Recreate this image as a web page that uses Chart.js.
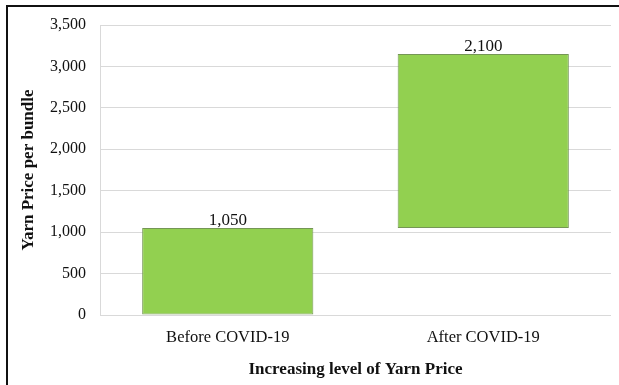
<!DOCTYPE html>
<html>
<head>
<meta charset="utf-8">
<script src="https://cdn.jsdelivr.net/npm/chart.js@4"></script>
<style>
    html, body { margin: 0; padding: 0; background: #fff; }
    .wrap { position: relative; width: 619px; height: 385px; overflow: hidden; }
    .frame { position: absolute; left: 6px; top: 5px; width: 700px; height: 500px; border: 2px solid #111; }
    canvas { position: absolute; left: 0; top: 0; }
</style>
</head>
<body>
<div class="wrap">
    <div class="frame"></div>
    <canvas id="priceChart" width="619" height="385"></canvas>
</div>
<script>
const categories = ['Before COVID-19', 'After COVID-19'];
const baseValues = [0, 1050];
const increments = [1050, 2100];
const yTicks = [0, 500, 1000, 1500, 2000, 2500, 3000, 3500];

const serif = '"Liberation Serif", "Times New Roman", serif';

// floating bars: each one starts where the previous level ended
const ranges = categories.map((c, i) => [baseValues[i], baseValues[i] + increments[i]]);

const valueLabels = {
    id: 'valueLabels',
    afterDatasetsDraw(chart) {
        const ctx = chart.ctx;
        const meta = chart.getDatasetMeta(0);
        ctx.save();
        ctx.font = '17px ' + serif;
        ctx.fillStyle = '#111';
        ctx.textAlign = 'center';
        ctx.textBaseline = 'alphabetic';
        meta.data.forEach((bar, i) => {
            ctx.fillText(increments[i].toLocaleString('en-US'), bar.x, bar.y - 3);
        });
        ctx.restore();
    }
};

new Chart(document.getElementById('priceChart').getContext('2d'), {
    type: 'bar',
    data: {
        labels: categories,
        datasets: [{
            data: ranges,
            backgroundColor: '#92D050',
            borderColor: '#759655',
            borderWidth: 1,
            borderSkipped: false,
            barPercentage: 0.67,
            categoryPercentage: 1
        }]
    },
    options: {
        responsive: false,
        animation: false,
        layout: { padding: { top: 25, right: 8, left: 18, bottom: 5 } },
        plugins: {
            legend: { display: false },
            tooltip: { enabled: false }
        },
        scales: {
            x: {
                afterFit(scale) { scale.height = 65; },
                grid: { display: false, drawTicks: false },
                border: { display: false },
                ticks: { color: '#111', font: { family: serif, size: 16.5 }, padding: 13 },
                title: {
                    display: true,
                    text: 'Increasing level of Yarn Price',
                    color: '#111',
                    font: { family: serif, size: 17, weight: 'bold' },
                    padding: { top: 12, bottom: 0 }
                }
            },
            y: {
                min: 0,
                max: 3500,
                afterFit(scale) { scale.width = 82; },
                afterBuildTicks(scale) {
                    scale.ticks = yTicks.map(v => ({ value: v }));
                },
                grid: { color: '#d9d9d9', lineWidth: 1, drawTicks: false },
                border: { color: '#d9d9d9' },
                ticks: {
                    color: '#111',
                    font: { family: serif, size: 16 },
                    padding: 14,
                    callback: v => v.toLocaleString('en-US')
                },
                title: {
                    display: true,
                    text: 'Yarn Price per bundle',
                    color: '#111',
                    font: { family: serif, size: 17, weight: 'bold' },
                    padding: { top: 0, bottom: 10 }
                }
            }
        }
    },
    plugins: [valueLabels]
});
</script>
</body>
</html>
